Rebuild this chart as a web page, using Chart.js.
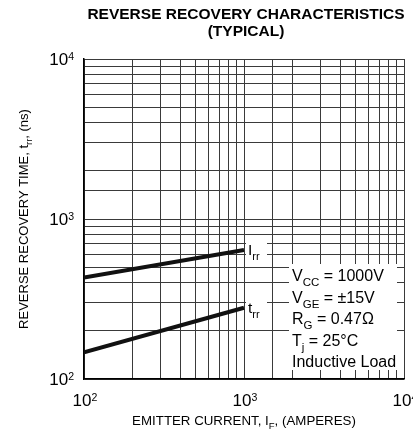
<!DOCTYPE html>
<html>
<head>
<meta charset="utf-8">
<script src="https://cdn.jsdelivr.net/npm/chart.js@4/dist/chart.umd.min.js"></script>
<style>
  html, body { margin: 0; padding: 0; background: #fff; }
  canvas { display: block; }
</style>
</head>
<body>
<canvas id="chart" width="413" height="429"></canvas>
<script>
// Reverse recovery characteristics (typical)
const emitterCurrent = [100, 1000];   // A
const irrValues = [431, 640];
const trrValues = [147, 279];
const decadeTicks = [100, 1000, 10000];

const titleLines = ['REVERSE RECOVERY CHARACTERISTICS', '(TYPICAL)'];
const xTitle = [['EMITTER CURRENT, I', ''], ['F', 'sub'], [', (AMPERES)', '']];
const yTitle = [['REVERSE RECOVERY TIME, t', ''], ['rr', 'sub'], [', (ns)', '']];
const conditions = [
    [['V', ''], ['CC', 'sub'], [' = 1000V', '']],
    [['V', ''], ['GE', 'sub'], [' = \u00b115V', '']],
    [['R', ''], ['G', 'sub'], [' = 0.47\u03a9', '']],
    [['T', ''], ['j', 'sub'], [' = 25\u00b0C', '']],
    [['Inductive Load', '']]
];

const FONT = '"Liberation Sans", Arial, Helvetica, sans-serif';

function partFont(size, kind, weight) {
    let s = size;
    if (kind === 'sub') s = size * 0.72;
    if (kind === 'sup') s = size * 0.62;
    return `${weight || 'normal'} ${s}px ${FONT}`;
}

function richWidth(ctx, parts, size, weight) {
    let w = 0;
    parts.forEach(([t, kind]) => {
        ctx.font = partFont(size, kind, weight);
        w += ctx.measureText(t).width;
    });
    return w;
}

function drawRich(ctx, parts, x, y, size, weight) {
    let cx = x;
    parts.forEach(([t, kind]) => {
        ctx.font = partFont(size, kind, weight);
        let dy = 0;
        if (kind === 'sub') dy = size * 0.32;
        if (kind === 'sup') dy = -size * 0.28;
        ctx.fillText(t, cx, y + dy);
        cx += ctx.measureText(t).width;
    });
}

const textPlugin = {
    id: 'textPlugin',
    afterDraw(chart) {
        const ctx = chart.ctx;
        const area = chart.chartArea;
        const xs = chart.scales.x;
        const ys = chart.scales.y;
        const midX = (area.left + area.right) / 2;
        ctx.save();
        ctx.fillStyle = '#000';
        ctx.textAlign = 'left';
        ctx.textBaseline = 'alphabetic';

        // Title
        ctx.font = `bold 15.5px ${FONT}`;
        ctx.textAlign = 'center';
        ctx.fillText(titleLines[0], midX + 2, 19);
        ctx.fillText(titleLines[1], midX + 2, 36);
        ctx.textAlign = 'left';

        // Tick labels 10^n
        decadeTicks.forEach(v => {
            const exp = String(Math.round(Math.log10(v)));
            const parts = [['10', ''], [exp, 'sup']];
            const w = richWidth(ctx, parts, 17);
            const py = ys.getPixelForValue(v);
            drawRich(ctx, parts, area.left - 10 - w, py + 6, 17);
            const px = xs.getPixelForValue(v);
            drawRich(ctx, parts, px - w / 2 + 1, 406, 17);
        });

        // Axis titles
        const xw = richWidth(ctx, xTitle, 13.3);
        drawRich(ctx, xTitle, midX - xw / 2, 425, 13.3);

        ctx.save();
        ctx.translate(28, (area.top + area.bottom) / 2);
        ctx.rotate(-Math.PI / 2);
        const yw = richWidth(ctx, yTitle, 13);
        drawRich(ctx, yTitle, -yw / 2, 0, 13);
        ctx.restore();

        // Curve labels
        const lastX = xs.getPixelForValue(emitterCurrent[emitterCurrent.length - 1]);
        [[irrValues, 'I'], [trrValues, 't']].forEach(([vals, letter]) => {
            const py = ys.getPixelForValue(vals[vals.length - 1]);
            ctx.fillStyle = '#fff';
            ctx.fillRect(lastX + 2, py - 10, 21, 22);
            ctx.fillStyle = '#000';
            drawRich(ctx, [[letter, ''], ['rr', 'sub']], lastX + 4, py + 5, 15.5);
        });

        // Test conditions box
        const bx = lastX + 45;
        const by = area.bottom - 115;
        ctx.fillStyle = '#fff';
        ctx.fillRect(bx, by, 108, 106);
        ctx.fillStyle = '#000';
        conditions.forEach((parts, i) => {
            drawRich(ctx, parts, bx + 3, by + 17 + i * 21.5, 16);
        });

        ctx.restore();
    }
};

const gridColor = '#3a3a3a';

new Chart(document.getElementById('chart'), {
    type: 'line',
    data: {
        labels: emitterCurrent,
        datasets: [
            {
                label: 'Irr',
                data: emitterCurrent.map((x, i) => ({ x, y: irrValues[i] })),
                borderColor: '#111',
                borderWidth: 4,
                pointRadius: 0,
                fill: false
            },
            {
                label: 'trr',
                data: emitterCurrent.map((x, i) => ({ x, y: trrValues[i] })),
                borderColor: '#111',
                borderWidth: 4,
                pointRadius: 0,
                fill: false
            }
        ]
    },
    options: {
        responsive: false,
        animation: false,
        layout: { padding: { top: 59, right: 9, left: 0, bottom: 0 } },
        plugins: {
            legend: { display: false },
            tooltip: { enabled: false }
        },
        scales: {
            x: {
                type: 'logarithmic',
                min: 100,
                max: 10000,
                afterFit: s => { s.height = 50; },
                grid: { color: gridColor, lineWidth: 1, drawTicks: false },
                border: { color: '#000', width: 1.5 },
                ticks: { autoSkip: false, callback: () => '', font: { size: 1 } }
            },
            y: {
                type: 'logarithmic',
                min: 100,
                max: 10000,
                afterFit: s => { s.width = 84; },
                grid: { color: gridColor, lineWidth: 1, drawTicks: false },
                border: { color: '#000', width: 1.5 },
                ticks: { autoSkip: false, callback: () => '', font: { size: 1 } }
            }
        }
    },
    plugins: [textPlugin]
});
</script>
</body>
</html>
